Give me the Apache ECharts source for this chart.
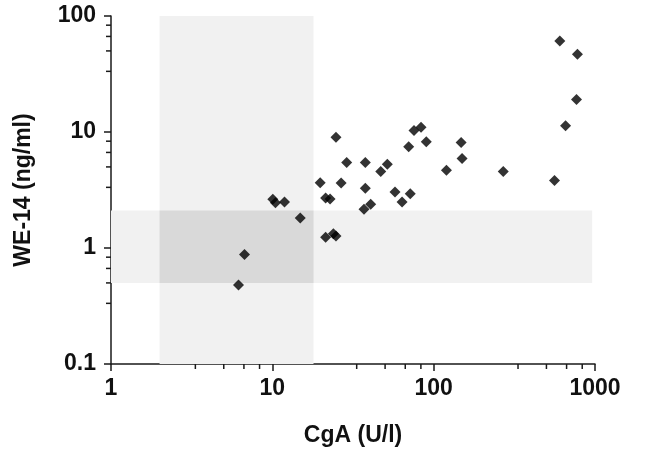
<!DOCTYPE html>
<html>
<head>
<meta charset="utf-8">
<script src="https://cdn.jsdelivr.net/npm/echarts@6/dist/echarts.min.js"></script>
<style>
  html, body { margin: 0; padding: 0; background: #fff; }
  #container { width: 664px; height: 467px; }
</style>
</head>
<body>
<div id="container"></div>
<script>
// CgA (U/l) vs WE-14 (ng/ml)
var cga = [605, 778, 768, 657, 561, 270, 148, 150, 120, 83.5,
           75.5, 90, 70, 51.6, 47, 37.7, 28.9, 24.8, 19.8, 26.7,
           37.7, 57.6, 71.6, 63.7, 40.7, 37, 21.4, 22.8, 10.07, 10.45,
           11.9, 14.9, 21.4, 23.9, 24.8, 6.72, 6.17];
var we14 = [60.9, 46.7, 19.1, 11.3, 3.81, 4.56, 8.1, 5.9, 4.67, 10.98,
            10.3, 8.26, 7.48, 5.27, 4.56, 5.45, 5.45, 9.0, 3.66, 3.63,
            3.27, 3.04, 2.94, 2.49, 2.38, 2.16, 2.70, 2.64, 2.63, 2.46,
            2.49, 1.81, 1.24, 1.33, 1.27, 0.88, 0.48];

// reference ranges (shaded bands)
var cgaRange = [2, 18];
var we14Range = [0.5, 2.1];
var bandEndX = 960;

// axis ranges and minor tick positions inside one decade
var xRange = [1, 1000];
var yRange = [0.1, 100];
var minorSteps = [10 / 3, 5, 20 / 3, 25 / 3];

function minorTicks(lo, hi) {
    var out = [];
    for (var d = lo; d < hi; d *= 10) {
        for (var i = 0; i < minorSteps.length; i++) {
            out.push(d * minorSteps[i]);
        }
    }
    return out;
}

var points = [];
for (var i = 0; i < cga.length; i++) {
    points.push([cga[i], we14[i]]);
}

var lineStyle = { color: '#1a1a1a', width: 1.5 };
var labelFont = { fontFamily: 'Liberation Sans', fontWeight: 'bold', fontSize: 23, color: '#111' };
var plainNum = function (v) { return String(+v.toPrecision(6)); };

var myChart = echarts.init(document.getElementById('container'));

var option = {
    animation: false,
    grid: { left: 111, right: 69, top: 16, bottom: 103, containLabel: false },
    xAxis: {
        type: 'log',
        logBase: 10,
        min: xRange[0],
        max: xRange[1],
        name: 'CgA (U/l)',
        nameLocation: 'middle',
        nameGap: 60,
        nameTextStyle: labelFont,
        axisLine: { onZero: false, lineStyle: lineStyle },
        axisTick: { length: 7, lineStyle: lineStyle },
        axisLabel: Object.assign({ margin: 13, formatter: plainNum }, labelFont),
        splitLine: { show: false }
    },
    yAxis: {
        type: 'log',
        logBase: 10,
        min: yRange[0],
        max: yRange[1],
        name: 'WE-14 (ng/ml)',
        nameLocation: 'middle',
        nameGap: 76,
        nameTextStyle: labelFont,
        axisLine: { onZero: false, lineStyle: lineStyle },
        axisTick: { length: 7, lineStyle: lineStyle },
        axisLabel: Object.assign({ margin: 15, formatter: plainNum }, labelFont),
        splitLine: { show: false }
    },
    series: [
        {
            type: 'scatter',
            symbol: 'diamond',
            symbolSize: 11,
            itemStyle: { color: '#000' },
            z: 3,
            data: points,
            markArea: {
                silent: true,
                data: [
                    [{ coord: [cgaRange[0], yRange[0]], itemStyle: { color: '#f1f1f1' } },
                     { coord: [cgaRange[1], yRange[1]] }],
                    [{ coord: [xRange[0], we14Range[0]], itemStyle: { color: '#f1f1f1' } },
                     { coord: [bandEndX, we14Range[1]] }],
                    [{ coord: [cgaRange[0], we14Range[0]], itemStyle: { color: '#d9d9d9' } },
                     { coord: [cgaRange[1], we14Range[1]] }]
                ]
            }
        }
    ]
};

myChart.setOption(option);

// minor ticks: placed with the chart's own log scales
var origin = myChart.convertToPixel({ gridIndex: 0 }, [xRange[0], yRange[0]]);
var ticks = [];
minorTicks(xRange[0], xRange[1]).forEach(function (v) {
    var x = myChart.convertToPixel({ xAxisIndex: 0 }, v);
    ticks.push({ type: 'line', silent: true, z: 10,
        shape: { x1: x, y1: origin[1], x2: x, y2: origin[1] + 5 },
        style: { stroke: '#1a1a1a', lineWidth: 1.5 } });
});
minorTicks(yRange[0], yRange[1]).forEach(function (v) {
    var y = myChart.convertToPixel({ yAxisIndex: 0 }, v);
    ticks.push({ type: 'line', silent: true, z: 10,
        shape: { x1: origin[0] - 5, y1: y, x2: origin[0], y2: y },
        style: { stroke: '#1a1a1a', lineWidth: 1.5 } });
});
myChart.setOption({ graphic: ticks });
</script>
</body>
</html>
